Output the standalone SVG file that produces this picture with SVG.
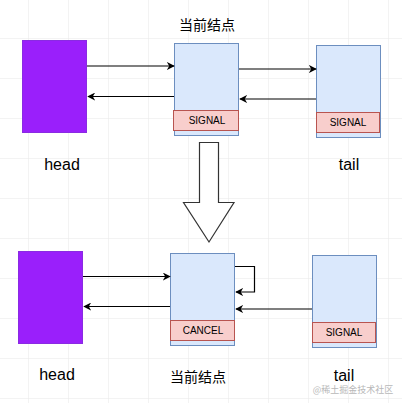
<svg xmlns="http://www.w3.org/2000/svg" width="402" height="403" viewBox="0 0 402 403">
<defs>
<pattern id="grid" x="28" y="38" width="40" height="40" patternUnits="userSpaceOnUse">
<path d="M0 0H40M0 0V40" fill="none" stroke="#e8e8e8" stroke-width="1"/>
</pattern>
<marker id="arr" viewBox="0 0 10 10" refX="9" refY="5" markerWidth="8" markerHeight="8" orient="auto" markerUnits="userSpaceOnUse">
<path d="M0 0L10 5L0 10L3 5Z" fill="#000"/>
</marker>
<style>
.head{fill:#9a1ffb;stroke:#8a2be2;stroke-width:1}
.node{fill:#dae8fc;stroke:#6c8ebf;stroke-width:1}
.state{fill:#f8cecc;stroke:#b85450;stroke-width:1}
.st{font-family:"Liberation Sans",Arial,sans-serif;font-size:10px;fill:#000;text-anchor:middle}
.lbl{font-family:"Liberation Sans",Arial,sans-serif;font-size:16px;fill:#000;text-anchor:middle}
.cn{font-family:"Liberation Sans","Noto Sans CJK SC",sans-serif;font-size:14px;fill:#000;text-anchor:middle}
.conn path{fill:none;stroke:#000;stroke-width:1.2;marker-end:url(#arr)}
</style>
</defs>
<rect x="0" y="0" width="402" height="403" fill="#fff"/>
<rect x="0" y="0" width="402" height="403" fill="url(#grid)"/>

<g id="top-title"><text class="cn" x="207" y="30">当前结点</text></g>
<g id="top-head">
<rect class="head" x="22.5" y="40.5" width="64" height="92"/>
<text class="lbl" x="62" y="170">head</text>
</g>
<g id="top-current">
<rect class="node" x="174.5" y="43.5" width="64" height="92"/>
<rect class="state" x="173.5" y="110.5" width="65" height="20"/>
<text class="st" x="207" y="124">SIGNAL</text>
</g>
<g id="top-tail">
<rect class="node" x="316.5" y="45.5" width="64" height="92"/>
<rect class="state" x="316.5" y="112.5" width="63" height="20"/>
<text class="st" x="348" y="126">SIGNAL</text>
<text class="lbl" x="349" y="170">tail</text>
</g>

<g id="transition">
<path d="M199.5 142.5H218.5V202.5H234L209 242L183.5 202.5H199.5Z" fill="#fff" stroke="#333" stroke-width="1.2" stroke-linejoin="miter"/>
</g>

<g id="bottom-head">
<rect class="head" x="18.5" y="251.5" width="64" height="92"/>
<text class="lbl" x="57" y="380">head</text>
</g>
<g id="bottom-current">
<rect class="node" x="170.5" y="253.5" width="64" height="92"/>
<rect class="state" x="170.5" y="320.5" width="64" height="20"/>
<text class="st" x="203" y="334">CANCEL</text>
<text class="cn" x="198" y="382">当前结点</text>
</g>
<g id="bottom-tail">
<rect class="node" x="312.5" y="255.5" width="64" height="92"/>
<rect class="state" x="312.5" y="322.5" width="63" height="20"/>
<text class="st" x="344" y="336">SIGNAL</text>
<text class="lbl" x="344" y="381">tail</text>
</g>

<g id="connectors" class="conn">
<path d="M87 66H174"/>
<path d="M174 96.5H88"/>
<path d="M239 69H316"/>
<path d="M316 99H240"/>
<path d="M83 276.5H170"/>
<path d="M170 306.5H84"/>
<path d="M235 266.5H254.5V292H236"/>
<path d="M312 309H236"/>
</g>

<text x="353" y="393" font-family="'Noto Sans CJK SC',sans-serif" font-size="9" fill="#b8b8b8" text-anchor="middle">@稀土掘金技术社区</text>
</svg>
